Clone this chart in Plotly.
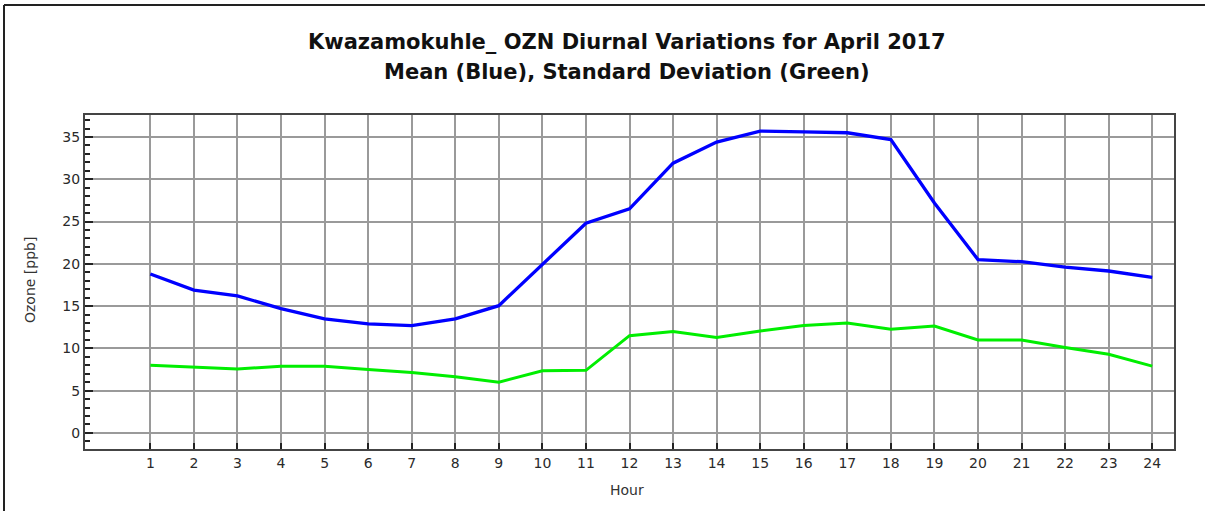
import plotly.graph_objects as go

hours = list(range(1, 25))
mean_ozone = [18.8, 16.9, 16.2, 14.7, 13.5, 12.9, 12.7, 13.5, 15.05, 19.9, 24.8, 26.5,
              31.9, 34.4, 35.7, 35.6, 35.5, 34.7, 27.2, 20.5, 20.25, 19.6, 19.15, 18.4]
std_ozone = [8.0, 7.8, 7.55, 7.9, 7.9, 7.5, 7.15, 6.65, 6.0, 7.35, 7.4, 11.5,
             12.0, 11.3, 12.05, 12.7, 13.0, 12.25, 12.65, 11.0, 11.0, 10.1, 9.3, 7.9]
y_ticks = [0, 5, 10, 15, 20, 25, 30, 35]

title_line1 = "Kwazamokuhle_ OZN Diurnal Variations for April 2017"
title_line2 = "Mean (Blue), Standard Deviation (Green)"

FONT = "DejaVu Sans, Liberation Sans, Arial, sans-serif"

fig = go.Figure()
fig.add_trace(go.Scatter(x=hours, y=mean_ozone, mode="lines",
                         line=dict(color="#0000ff", width=3.3), name="Mean"))
fig.add_trace(go.Scatter(x=hours, y=std_ozone, mode="lines",
                         line=dict(color="#00ee00", width=3), name="Std"))

L, R, T, B = 85, 31, 115, 62
W, H = 1205, 511
pw, ph = W - L - R, H - T - B

fig.update_layout(
    width=W, height=H,
    margin=dict(l=L, r=R, t=T, b=B, pad=0),
    paper_bgcolor="white", plot_bgcolor="white",
    showlegend=False,
    font=dict(family=FONT, color="#333333"),
)
fig.update_xaxes(
    range=[-0.5, 24.5], tickmode="array", tickvals=hours, ticktext=[str(h) for h in hours],
    showgrid=True, gridcolor="#9a9a9a", gridwidth=2,
    ticks="inside", ticklen=6, tickcolor="#222222", tickwidth=2,
    showline=True, linecolor="#444444", linewidth=2, mirror=True,
    zeroline=False, tickfont=dict(size=14, color="#2a2a2a"),
)
fig.update_yaxes(
    range=[-1.9, 37.6], tickmode="array", tickvals=y_ticks,
    showgrid=True, gridcolor="#9a9a9a", gridwidth=2,
    ticks="inside", ticklen=8, tickcolor="#222222", tickwidth=2,
    minor=dict(dtick=1, ticks="inside", ticklen=5, tickcolor="#222222", tickwidth=1.5, showgrid=False),
    showline=True, linecolor="#444444", linewidth=2, mirror=True,
    zeroline=False, tickfont=dict(size=14, color="#2a2a2a"),
)

def px_x(x):
    return (x - L) / pw

def px_y(y):
    return 1 - (y - T) / ph

fig.add_annotation(text="<b>" + title_line1 + "</b>", xref="paper", yref="paper",
                   x=px_x(627), y=px_y(42), showarrow=False, xanchor="center", yanchor="middle",
                   font=dict(size=21, color="#111111", family=FONT))
fig.add_annotation(text="<b>" + title_line2 + "</b>", xref="paper", yref="paper",
                   x=px_x(627), y=px_y(72), showarrow=False, xanchor="center", yanchor="middle",
                   font=dict(size=21, color="#111111", family=FONT))
fig.add_annotation(text="Ozone [ppb]", xref="paper", yref="paper",
                   x=px_x(30), y=px_y(280), textangle=-90,
                   showarrow=False, xanchor="center", yanchor="middle",
                   font=dict(size=14, color="#333333"))
fig.add_annotation(text="Hour", xref="paper", yref="paper",
                   x=px_x(627), y=px_y(490),
                   showarrow=False, xanchor="center", yanchor="middle",
                   font=dict(size=14, color="#333333"))

# outer frame lines (top and left)
fig.add_shape(type="line", xref="paper", yref="paper",
              x0=px_x(4), x1=px_x(W), y0=px_y(5), y1=px_y(5),
              line=dict(color="#222222", width=2))
fig.add_shape(type="line", xref="paper", yref="paper",
              x0=px_x(4), x1=px_x(4), y0=px_y(5), y1=px_y(H),
              line=dict(color="#222222", width=2))

fig.write_html("out.html", config={"displayModeBar": False},
               post_script="document.body.style.margin='0';document.body.style.overflow='hidden';")
